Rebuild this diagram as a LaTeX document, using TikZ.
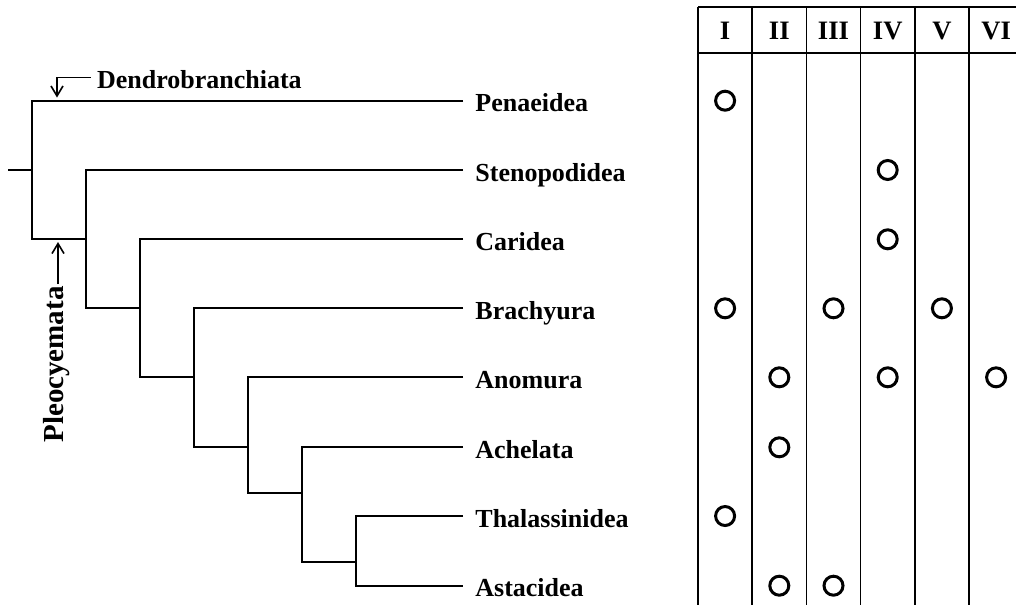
\documentclass[tikz,border=0pt]{standalone}
\usepackage{fontspec}
\setmainfont{Liberation Serif}
\usepackage{tikz}
\usetikzlibrary{arrows.meta,positioning,calc}

\newcommand{\taxfont}{\fontsize{13}{15}\selectfont\bfseries}
\newcommand{\colfont}{\fontsize{13.3}{15}\selectfont\bfseries}
\newcommand{\cladefont}{\fontsize{14.5}{16}\selectfont\bfseries}

\tikzset{
  branch/.style={line width=1.05pt,line join=miter},
  taxon/.style={anchor=west,inner xsep=6pt,inner ysep=0pt,
                text height=11pt,text depth=0pt,font=\taxfont},
  rule/.style={line width=0.75pt,draw=black},
  hit/.style={circle,draw,line width=1.5pt,minimum size=9.5pt,inner sep=0pt},
  pointer/.style={line width=0.8pt,-{Straight Barb[length=5pt,width=6pt]}}
}

\begin{document}
\begin{tikzpicture}[x=0.5pt,y=-0.5pt]
  \useasboundingbox (0,0) rectangle (1016,605);

  % taxa
  \foreach \nm/\txt/\y in {pen/Penaeidea/100.7, ste/Stenopodidea/170,
      car/Caridea/239.3, bra/Brachyura/308.3, ano/Anomura/377.3,
      ach/Achelata/447.3, tha/Thalassinidea/516, ast/Astacidea/585.7}
    \node[taxon] (\nm) at (463,\y) {\txt};

  % internal nodes
  \coordinate (root) at (8,170);
  \coordinate (n1) at (32,170);
  \coordinate (n2) at (86,239.3);
  \coordinate (n3) at (140,308.3);
  \coordinate (n4) at (194,377.3);
  \coordinate (n5) at (248,447.3);
  \coordinate (n6) at (302,493);
  \coordinate (n7) at (356,562);

  \draw[branch] (root) -- (n1);
  \draw[branch] (pen.west) -| (n1) |- (n2);
  \draw[branch] (ste.west) -| (n2) |- (n3);
  \draw[branch] (car.west) -| (n3) |- (n4);
  \draw[branch] (bra.west) -| (n4) |- (n5);
  \draw[branch] (ano.west) -| (n5) |- (n6);
  \draw[branch] (ach.west) -| (n6) |- (n7);
  \draw[branch] (tha.west) -| (n7) |- (ast.west);

  % clade labels
  \node[taxon,inner xsep=3pt] (dendro) at (90.7,77.5) {Dendrobranchiata};
  \coordinate (dTip) at (57,97.5);
  \draw[pointer] (dendro.west) -| (dTip);

  \node[anchor=east,rotate=90,inner xsep=1pt,inner ysep=0pt,
        text height=5pt,text depth=0pt,font=\cladefont] (pleo) at (58,284) {Pleocyemata};
  \coordinate (pTip) at (58,242);
  \draw[pointer] (pleo.east) -- (pTip);

  % character table
  \foreach \i in {0,...,5}
    \draw[rule] ({698+54.2*\i},7) -- ({698+54.2*\i},605);
  \draw[rule] (698,7) -- (1016,7);
  \draw[rule] (698,53) -- (1016,53);
  \foreach \c/\lab in {1/I,2/II,3/III,4/IV,5/V,6/VI}
    \node[font=\colfont,inner sep=0pt] (col\c) at ({698+54.2*(\c-0.5)},30.5) {\lab};

  % character states
  \foreach \c/\y [count=\k] in {1/100.7, 4/170, 4/239.3, 1/308.3, 3/308.3,
      5/308.3, 2/377.3, 4/377.3, 6/377.3, 2/447.3, 1/516, 2/585.7, 3/585.7}
    \node[hit] (o\k) at ({698+54.2*(\c-0.5)},\y) {};
\end{tikzpicture}
\end{document}
